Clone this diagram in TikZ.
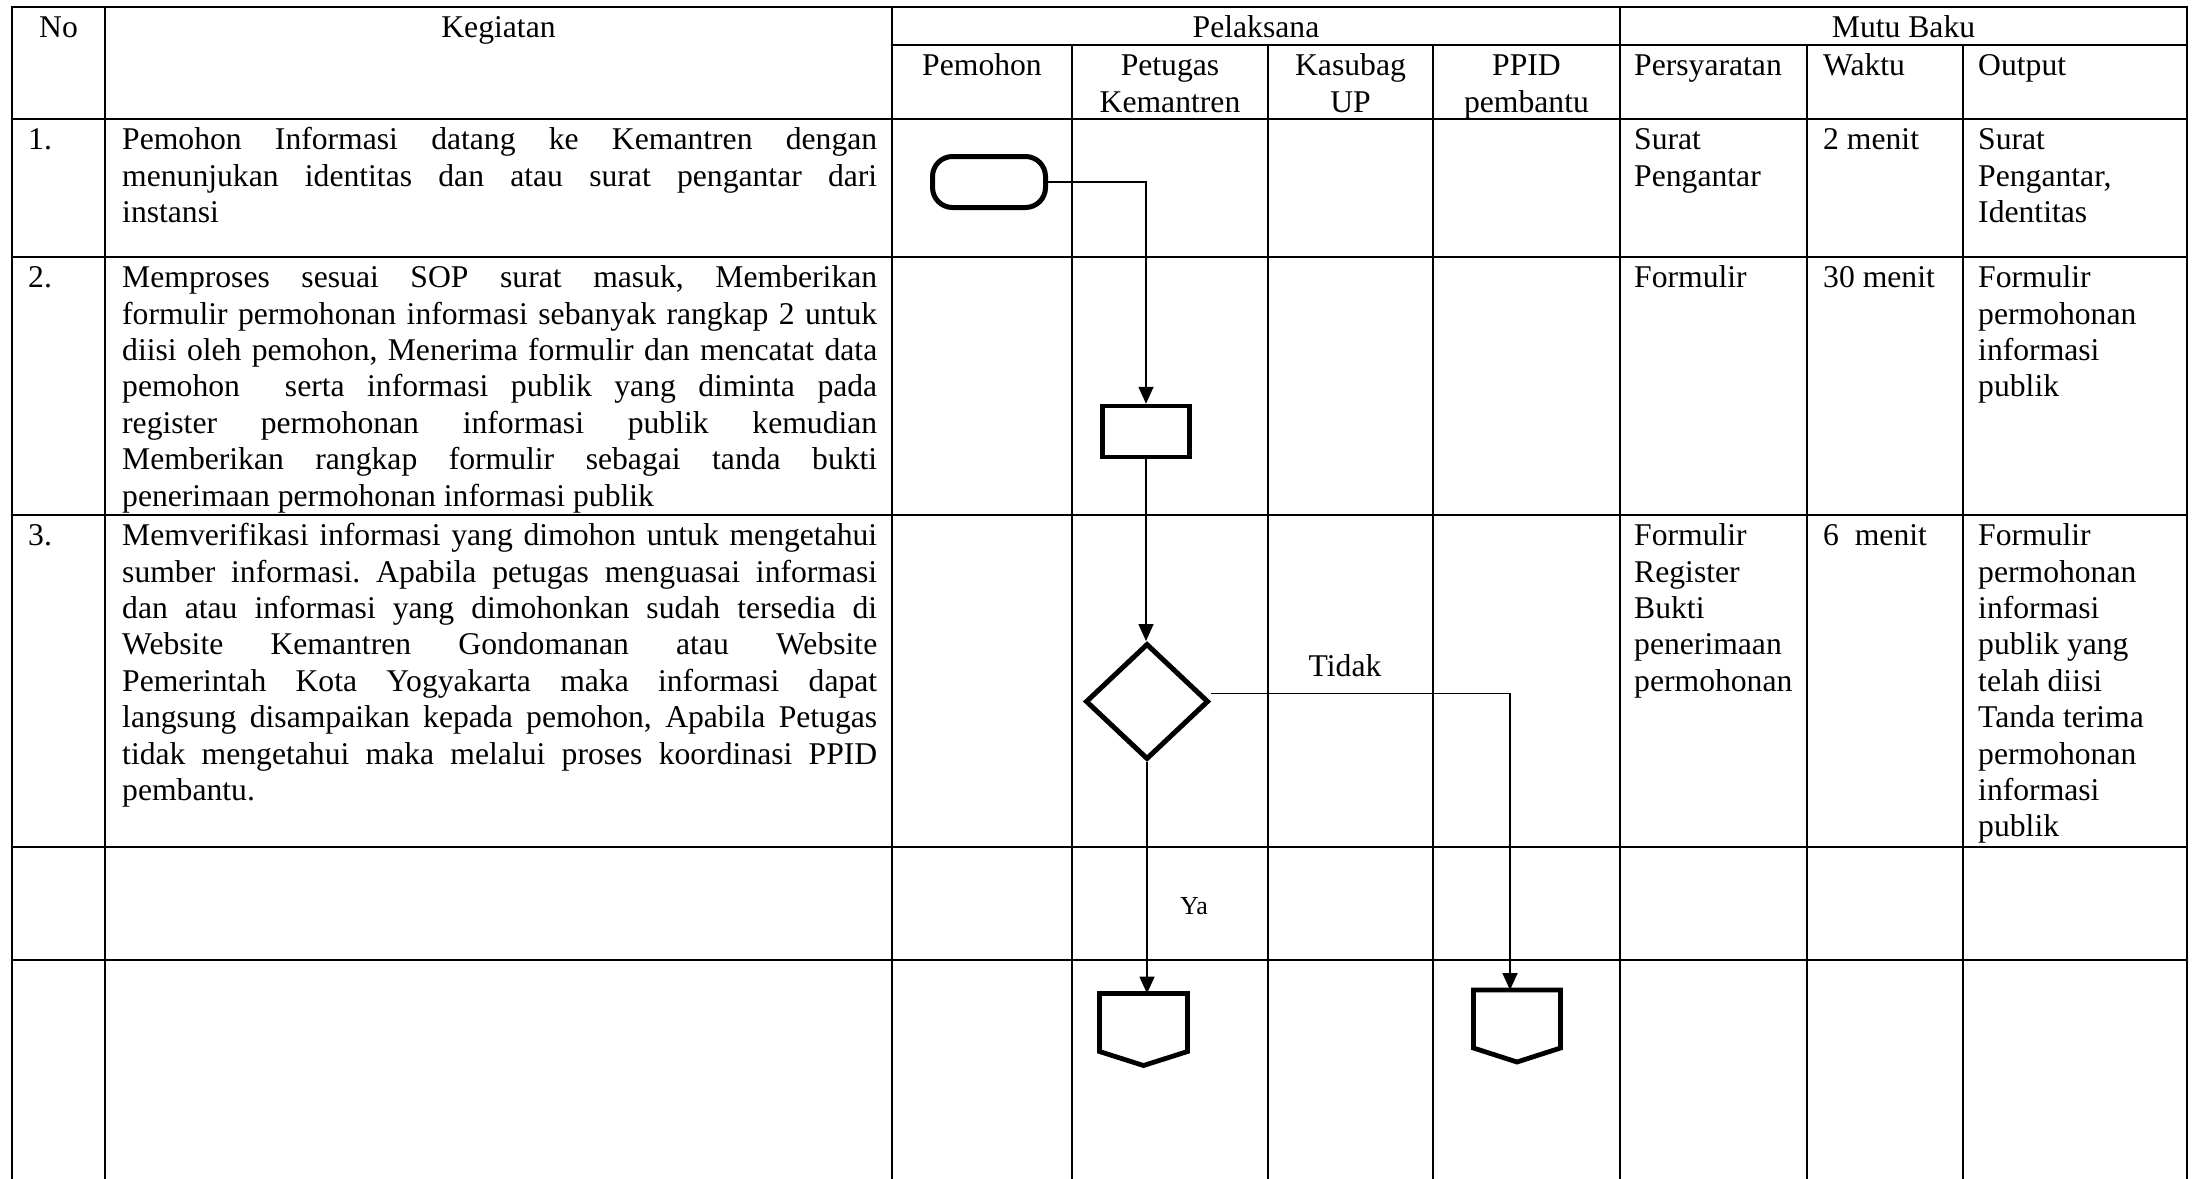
\documentclass[tikz,border=0pt]{standalone}
\usepackage{fontspec}
\setmainfont{Liberation Serif}
\usetikzlibrary{arrows.meta}
\usetikzlibrary{shapes.geometric}
\frenchspacing

\newcommand{\cellfont}{\fontsize{31.65pt}{36.4pt}\selectfont}
\newcommand{\yafont}{\fontsize{26pt}{30pt}\selectfont}
% one justified line of a Kegiatan cell, and the last (free) line
\newcommand{\jl}[1]{\par\hbox to\hsize{\strut #1}}
\newcommand{\lastl}[1]{\par\hbox{\strut #1}}

\tikzset{
  tabline/.style={line width=1.8pt, line cap=rect},
  cell/.style={anchor=north west, inner sep=0pt, align=left, font=\cellfont},
  hdr/.style={cell, anchor=north, align=center},
  para/.style={anchor=north west, inner sep=0pt, font=\cellfont},
  sym/.style={draw, line width=5pt, inner sep=0pt},
  symline/.style={line width=4.8pt, line join=miter},
  offbox/.style={minimum width=88pt, minimum height=58pt, inner sep=0pt, outer sep=0pt},
  flow/.style={line width=1.7pt, -{Triangle[length=17pt,width=15pt]}},
}

\begin{document}
\begin{tikzpicture}[x=1pt, y=-1pt]
  \useasboundingbox (0,0) rectangle (2197,1178);

  % table rules
  \foreach \x in {12,105,892,1620,2187} {
    \draw [tabline] (\x,7) -- (\x,1178);
  }
  \foreach \x in {1072,1268,1433,1807,1963} {
    \draw [tabline] (\x,45) -- (\x,1178);
  }
  \draw [tabline] (892,45) -- (2187,45);
  \foreach \y in {7,119,257,515,847,960} {
    \draw [tabline] (12,\y) -- (2187,\y);
  }

  % header
  \node [hdr] (hno) at (58.5,12) {\strut No};
  \node [hdr] (hkeg) at (498.5,12) {\strut Kegiatan};
  \node [hdr] (hpel) at (1256,12) {\strut Pelaksana};
  \node [hdr] (hmutu) at (1903.5,12) {\strut Mutu Baku};
  \node [hdr] (hpem) at (982,50) {\strut Pemohon};
  \node [hdr] (hpet) at (1170,50) {\strut Petugas\\Kemantren};
  \node [hdr] (hkas) at (1350.5,50) {\strut Kasubag\\UP};
  \node [hdr] (hppid) at (1526.5,50) {\strut PPID\\pembantu};
  \node [cell] (hsyarat) at (1634,50) {\strut Persyaratan};
  \node [cell] (hwaktu) at (1823,50) {\strut Waktu};
  \node [cell] (hout) at (1978,50) {\strut Output};

  % row 1
  \node [cell] (no1) at (28,124) {\strut 1.};
  \node [para] (keg1) at (122,124) {\vbox{\hsize=755pt
    \jl{Pemohon Informasi datang ke Kemantren dengan}
    \jl{menunjukan identitas dan atau surat pengantar dari}
    \lastl{instansi}}};
  \node [cell] (syarat1) at (1634,124) {\strut Surat\\Pengantar};
  \node [cell] (waktu1) at (1823,124) {\strut 2 menit};
  \node [cell] (out1) at (1978,124) {\strut Surat\\Pengantar,\\Identitas};

  % row 2
  \node [cell] (no2) at (28,262) {\strut 2.};
  \node [para] (keg2) at (122,262) {\vbox{\hsize=755pt
    \jl{Memproses sesuai SOP surat masuk, Memberikan}
    \jl{formulir permohonan informasi sebanyak rangkap 2 untuk}
    \jl{diisi oleh pemohon, Menerima formulir dan mencatat data}
    \jl{pemohon\ \ serta informasi publik yang diminta pada}
    \jl{register permohonan informasi publik kemudian}
    \jl{Memberikan rangkap formulir sebagai tanda bukti}
    \lastl{penerimaan permohonan informasi publik}}};
  \node [cell] (syarat2) at (1634,262) {\strut Formulir};
  \node [cell] (waktu2) at (1823,262) {\strut 30 menit};
  \node [cell] (out2) at (1978,262) {\strut Formulir\\permohonan\\informasi\\publik};

  % row 3
  \node [cell] (no3) at (28,520) {\strut 3.};
  \node [para] (keg3) at (122,520) {\vbox{\hsize=755pt
    \jl{Memverifikasi informasi yang dimohon untuk mengetahui}
    \jl{sumber informasi. Apabila petugas menguasai informasi}
    \jl{dan atau informasi yang dimohonkan sudah tersedia di}
    \jl{Website Kemantren Gondomanan atau Website}
    \jl{Pemerintah Kota Yogyakarta maka informasi dapat}
    \jl{langsung disampaikan kepada pemohon, Apabila Petugas}
    \jl{tidak mengetahui maka melalui proses koordinasi PPID}
    \lastl{pembantu.}}};
  \node [cell] (syarat3) at (1634,520) {\strut Formulir\\Register\\Bukti\\penerimaan\\permohonan};
  \node [cell] (waktu3) at (1823,520) {\strut 6\ \ menit};
  \node [cell] (out3) at (1978,520) {\strut Formulir\\permohonan\\informasi\\publik yang\\telah diisi\\Tanda terima\\permohonan\\informasi\\publik};

  % flow symbols
  \node [sym, rectangle, rounded corners=20pt, minimum width=113pt, minimum height=51pt] (start) at (989,182) {};
  \node [sym, rectangle, line width=4.5pt, minimum width=87pt, minimum height=51pt] (proc) at (1146,431.5) {};
  \node [sym, diamond, minimum width=123pt, minimum height=116pt] (dec) at (1147,701.5) {};
  \node [offbox] (offa) at (1143.5,1022.5) {};
  \node [offbox, minimum width=87pt] (offb) at (1517,1019) {};
  \foreach \o in {offa,offb} {
    \draw [symline] (\o.north west) -- (\o.north east) -- (\o.south east)
      -- ([yshift=-14pt]\o.south) -- (\o.south west) -- cycle;
  }

  % connectors
  \draw [flow] (start.east) -| (proc.north);
  \draw [flow] (proc.south) -- (proc.south |- dec.north);
  \draw [flow] (dec.south) -- (dec.south |- offa.north);
  \draw [flow] ([yshift=8pt]dec.east) -| ([xshift=-7pt]offb.north);

  \node [anchor=base, inner sep=0pt, font=\cellfont] (tidak) at (1345,676) {Tidak};
  \node [anchor=base west, inner sep=0pt, font=\yafont] (ya) at (1180,914) {Ya};

\end{tikzpicture}
\end{document}
